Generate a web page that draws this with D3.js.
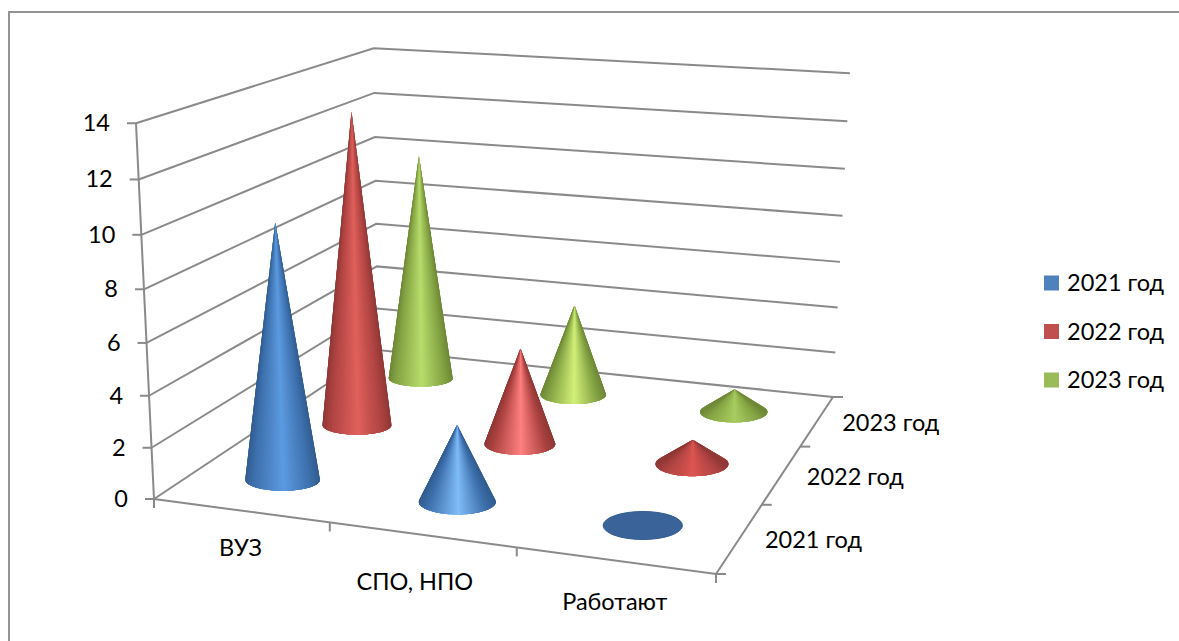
<!DOCTYPE html>
<meta charset="utf-8">
<script src="https://cdnjs.cloudflare.com/ajax/libs/d3/7.8.5/d3.min.js"></script>
<style>
  html, body { margin: 0; background: #fff; }
  text { font-family: Lato, "Open Sans", sans-serif; font-size: 23.5px; fill: #000; }
</style>
<div id="chart"></div>
<script>
  const categories = ['ВУЗ', 'СПО, НПО', 'Работают']
  const series = ['2021 год', '2022 год', '2023 год']
  const values2021 = [10, 3, 0]
  const values2022 = [13, 4, 1]
  const values2023 = [10, 4, 1]
  const seriesValues = [values2021, values2022, values2023]
  const zTicks = [0, 2, 4, 6, 8, 10, 12, 14]

  const swatch = ['#4f81bd', '#c0504d', '#9bbb59']
  const shade = [
    { edge: '#3d70ad', mid: ['#5c9ae0', '#7fbcf8', '#4a7fc0'] },
    { edge: '#ad4341', mid: ['#e0605c', '#ff8080', '#dc5552'] },
    { edge: '#84a343', mid: ['#b8dc6c', '#d2f078', '#a8cc60'] }
  ]
  const grid = '#8a8a8a'

  const width = 1179
  const height = 641

  // floor corners on screen: front-left, front-right, back-right, back-left
  const A = [154, 499], D = [716, 574], C = [833, 397], B = [378, 350]
  // where the vertical edges of the box meet, far below the picture
  const vp = [477, 7240]

  // unit square -> floor quad
  const dx1 = D[0] - C[0], dy1 = D[1] - C[1]
  const dx2 = B[0] - C[0], dy2 = B[1] - C[1]
  const sx = A[0] - D[0] + C[0] - B[0], sy = A[1] - D[1] + C[1] - B[1]
  const det = dx1 * dy2 - dx2 * dy1
  const g = (sx * dy2 - dx2 * sy) / det
  const h = (dx1 * sy - sx * dy1) / det
  const a = D[0] - A[0] + g * D[0], b = B[0] - A[0] + h * B[0]
  const d = D[1] - A[1] + g * D[1], e = B[1] - A[1] + h * B[1]

  const zScale = d3.scaleLinear().domain([0, 14]).range([0, -0.0528])
  const uScale = d3.scaleBand().domain(categories).range([0, 1])
  const vScale = d3.scaleBand().domain(series).range([0, 1])

  function project(u, v, z) {
    const l = zScale(z)
    const w = 1 + g * u + h * v + l
    return [
      (a * u + b * v + A[0] + l * vp[0]) / w,
      (d * u + e * v + A[1] + l * vp[1]) / w
    ]
  }

  const svg = d3.select('#chart').append('svg')
    .attr('width', width).attr('height', height)
    .style('display', 'block')

  svg.append('defs').append('filter').attr('id', 'soft')
    .append('feGaussianBlur').attr('stdDeviation', 0.6)

  // frame: only the top and left edges show
  svg.append('path').attr('d', 'M9,' + height + 'V12H' + width)
    .attr('fill', 'none').attr('stroke', '#949494').attr('stroke-width', 2)

  const line = d3.line()
  const gridG = svg.append('g').attr('fill', 'none').attr('stroke', grid).attr('stroke-width', 2)

  // walls
  zTicks.forEach(t => {
    gridG.append('path').attr('d', line([project(0, 0, t), project(0, 1, t), project(1, 1, t)]))
    const p = project(0, 0, t)
    gridG.append('path').attr('d', line([p, [p[0] - 9, p[1]]]))
  })
  gridG.append('path').attr('d', line([project(0, 0, 0), project(0, 0, 14)]))

  // floor
  gridG.append('path').attr('d', line([project(0, 0, 0), project(1, 0, 0), project(1, 1, 0)]))
  d3.range(4).forEach(i => {
    const p = project(i / 3, 0, 0)
    gridG.append('path').attr('d', line([p, [p[0], p[1] + 9]]))
    const q = project(1, i / 3, 0)
    gridG.append('path').attr('d', line([q, [q[0] + 10, q[1]]]))
  })

  svg.append('g').selectAll('text').data(zTicks).join('text')
    .attr('x', t => project(0, 0, t)[0] - 26)
    .attr('y', t => project(0, 0, t)[1] + 8)
    .attr('text-anchor', 'end')
    .text(t => t)

  const catDx = [0, -7, 0], catDy = [45, 55, 50]
  svg.append('g').selectAll('text').data(categories).join('text')
    .attr('x', (c, i) => project(uScale(c) + uScale.bandwidth() / 2, 0, 0)[0] + catDx[i])
    .attr('y', (c, i) => project(uScale(c) + uScale.bandwidth() / 2, 0, 0)[1] + catDy[i])
    .attr('text-anchor', 'middle')
    .text(c => c)

  svg.append('g').selectAll('text').data(series).join('text')
    .attr('x', s => project(1, vScale(s) + vScale.bandwidth() / 2, 0)[0] + 25)
    .attr('y', s => project(1, vScale(s) + vScale.bandwidth() / 2, 0)[1] + 10)
    .text(s => s)

  // cones, back row first
  const baseR = 38.4
  const cones = []
  series.forEach((s, si) => categories.forEach((c, ci) => {
    cones.push({ s, c, si, ci, value: seriesValues[si][ci] })
  }))
  cones.sort((p, q) => q.si - p.si || p.ci - q.ci)

  cones.forEach(k => {
    const u = uScale(k.c) + uScale.bandwidth() / 2
    const v = vScale(k.s) + vScale.bandwidth() / 2
    const base = project(u, v, 0)
    const tip = project(u, v, k.value)
    const rx = baseR / (1 + g * u + h * v)
    const ry = rx * (0.30 + 0.08 * (u - 1 / 6) - 0.06 * (v - 1 / 6))
    const H = base[1] - tip[1]

    if (H <= ry) {
      // zero value: only the disc is left
      svg.append('ellipse')
        .attr('cx', base[0]).attr('cy', base[1]).attr('rx', rx).attr('ry', ry)
        .attr('fill', '#3a6499').attr('stroke', '#345c90')
      return
    }

    const edge = shade[k.si].edge
    const ramp = d3.scaleLinear()
      .domain([0, 0.12, 0.47, 0.88, 1])
      .range([d3.color(edge).darker(0.5), edge, shade[k.si].mid[k.ci], edge, d3.color(edge).darker(0.5)])

    // tangent points of the two sides on the base ellipse
    const start = Math.asin(Math.min(1, ry / H))
    const n = 60
    const rim = d3.range(n + 1).map(i => {
      const t = -start + (Math.PI + 2 * start) * i / n
      return { t, p: [base[0] + rx * Math.cos(t), base[1] + ry * Math.sin(t)] }
    })

    // thin slices from the tip so the shading narrows towards it,
    // each one runs under the next so no seams show
    const cone = svg.append('g').attr('filter', 'url(#soft)')
    d3.range(n).forEach(i => {
      const f = 1 - (Math.cos(rim[i].t) + 1) / 2
      const fan = rim.slice(i, Math.min(i + 5, n + 1)).map(r => r.p)
      cone.append('path')
        .attr('d', line([tip, ...fan]) + 'Z')
        .attr('fill', ramp(f))
    })
  })

  // legend
  const legendY = d3.scalePoint().domain(series).range([283, 380])
  const legend = svg.append('g').selectAll('g').data(series).join('g')
    .attr('transform', s => 'translate(1044,' + legendY(s) + ')')
  legend.append('rect')
    .attr('y', -7.5).attr('width', 15).attr('height', 15)
    .attr('fill', (s, i) => swatch[i])
  legend.append('text').attr('x', 23).attr('y', 8).text(s => s)
</script>
